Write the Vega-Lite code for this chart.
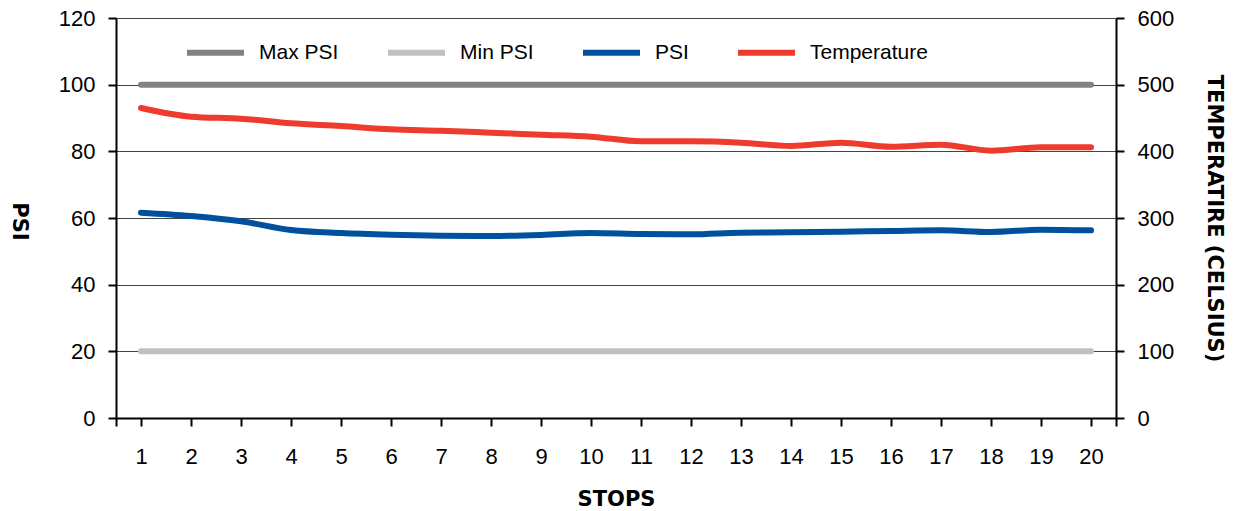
{
  "$schema": "https://vega.github.io/schema/vega-lite/v6.json",
  "width": 1000,
  "height": 400,
  "autosize": {"type": "none"},
  "padding": {"left": 116, "top": 18, "right": 119, "bottom": 93},
  "background": "white",
  "config": {
    "view": {"stroke": null},
    "font": "Liberation Sans",
    "axis": {
      "domainColor": "#000000",
      "domainWidth": 2,
      "tickColor": "#000000",
      "tickWidth": 2,
      "tickSize": 8,
      "labelFont": "Liberation Sans",
      "labelFontSize": 22,
      "labelColor": "#000000",
      "titleFont": "DejaVu Sans",
      "titleFontWeight": "bold",
      "titleFontSize": 21,
      "titleColor": "#000000"
    }
  },
  "data": {
    "values": [
      {"stop": 1, "series": "Max PSI", "value": 100}, {"stop": 2, "series": "Max PSI", "value": 100}, {"stop": 3, "series": "Max PSI", "value": 100}, {"stop": 4, "series": "Max PSI", "value": 100}, {"stop": 5, "series": "Max PSI", "value": 100}, {"stop": 6, "series": "Max PSI", "value": 100}, {"stop": 7, "series": "Max PSI", "value": 100}, {"stop": 8, "series": "Max PSI", "value": 100}, {"stop": 9, "series": "Max PSI", "value": 100}, {"stop": 10, "series": "Max PSI", "value": 100},
      {"stop": 11, "series": "Max PSI", "value": 100}, {"stop": 12, "series": "Max PSI", "value": 100}, {"stop": 13, "series": "Max PSI", "value": 100}, {"stop": 14, "series": "Max PSI", "value": 100}, {"stop": 15, "series": "Max PSI", "value": 100}, {"stop": 16, "series": "Max PSI", "value": 100}, {"stop": 17, "series": "Max PSI", "value": 100}, {"stop": 18, "series": "Max PSI", "value": 100}, {"stop": 19, "series": "Max PSI", "value": 100}, {"stop": 20, "series": "Max PSI", "value": 100},
      {"stop": 1, "series": "Min PSI", "value": 20}, {"stop": 2, "series": "Min PSI", "value": 20}, {"stop": 3, "series": "Min PSI", "value": 20}, {"stop": 4, "series": "Min PSI", "value": 20}, {"stop": 5, "series": "Min PSI", "value": 20}, {"stop": 6, "series": "Min PSI", "value": 20}, {"stop": 7, "series": "Min PSI", "value": 20}, {"stop": 8, "series": "Min PSI", "value": 20}, {"stop": 9, "series": "Min PSI", "value": 20}, {"stop": 10, "series": "Min PSI", "value": 20},
      {"stop": 11, "series": "Min PSI", "value": 20}, {"stop": 12, "series": "Min PSI", "value": 20}, {"stop": 13, "series": "Min PSI", "value": 20}, {"stop": 14, "series": "Min PSI", "value": 20}, {"stop": 15, "series": "Min PSI", "value": 20}, {"stop": 16, "series": "Min PSI", "value": 20}, {"stop": 17, "series": "Min PSI", "value": 20}, {"stop": 18, "series": "Min PSI", "value": 20}, {"stop": 19, "series": "Min PSI", "value": 20}, {"stop": 20, "series": "Min PSI", "value": 20},
      {"stop": 1, "series": "PSI", "value": 61.6}, {"stop": 2, "series": "PSI", "value": 60.6}, {"stop": 3, "series": "PSI", "value": 59.0}, {"stop": 4, "series": "PSI", "value": 56.4}, {"stop": 5, "series": "PSI", "value": 55.5}, {"stop": 6, "series": "PSI", "value": 55.0}, {"stop": 7, "series": "PSI", "value": 54.7}, {"stop": 8, "series": "PSI", "value": 54.6}, {"stop": 9, "series": "PSI", "value": 54.9}, {"stop": 10, "series": "PSI", "value": 55.5},
      {"stop": 11, "series": "PSI", "value": 55.2}, {"stop": 12, "series": "PSI", "value": 55.1}, {"stop": 13, "series": "PSI", "value": 55.6}, {"stop": 14, "series": "PSI", "value": 55.7}, {"stop": 15, "series": "PSI", "value": 55.9}, {"stop": 16, "series": "PSI", "value": 56.1}, {"stop": 17, "series": "PSI", "value": 56.3}, {"stop": 18, "series": "PSI", "value": 55.8}, {"stop": 19, "series": "PSI", "value": 56.5}, {"stop": 20, "series": "PSI", "value": 56.3},
      {"stop": 1, "series": "Temperature", "value": 465}, {"stop": 2, "series": "Temperature", "value": 452}, {"stop": 3, "series": "Temperature", "value": 449}, {"stop": 4, "series": "Temperature", "value": 442}, {"stop": 5, "series": "Temperature", "value": 438}, {"stop": 6, "series": "Temperature", "value": 433}, {"stop": 7, "series": "Temperature", "value": 431}, {"stop": 8, "series": "Temperature", "value": 428}, {"stop": 9, "series": "Temperature", "value": 425}, {"stop": 10, "series": "Temperature", "value": 422},
      {"stop": 11, "series": "Temperature", "value": 415}, {"stop": 12, "series": "Temperature", "value": 415}, {"stop": 13, "series": "Temperature", "value": 413}, {"stop": 14, "series": "Temperature", "value": 408}, {"stop": 15, "series": "Temperature", "value": 413}, {"stop": 16, "series": "Temperature", "value": 407}, {"stop": 17, "series": "Temperature", "value": 410}, {"stop": 18, "series": "Temperature", "value": 401}, {"stop": 19, "series": "Temperature", "value": 406}, {"stop": 20, "series": "Temperature", "value": 406}
    ]
  },
  "encoding": {
    "x": {
      "field": "stop",
      "type": "quantitative",
      "scale": {"domain": [0.5, 20.5], "nice": false, "zero": false},
      "axis": {
        "title": "STOPS",
        "values": [0.5, 1, 2, 3, 4, 5, 6, 7, 8, 9, 10, 11, 12, 13, 14, 15, 16, 17, 18, 19, 20, 20.5],
        "labelExpr": "datum.value % 1 == 0 ? datum.label : ''",
        "grid": false,
        "labelPadding": 20,
        "labelOverlap": false,
        "titleY": 87,
        "titleBaseline": "alphabetic"
      }
    },
    "color": {
      "field": "series",
      "type": "nominal",
      "scale": {
        "domain": ["Max PSI", "Min PSI", "PSI", "Temperature"],
        "range": ["#828285", "#c0c0c0", "#00509b", "#ef3b2d"]
      },
      "legend": {
        "title": null,
        "orient": "none",
        "legendX": 68,
        "legendY": 3,
        "direction": "horizontal",
        "padding": 0,
        "symbolType": "stroke",
        "symbolSize": 3249,
        "symbolStrokeWidth": 6,
        "labelFontSize": 21,
        "labelFont": "Liberation Sans",
        "labelColor": "#000000",
        "labelOffset": 12,
        "columnPadding": 37
      }
    }
  },
  "layer": [
    {
      "transform": [{"filter": "datum.series != 'Temperature'"}],
      "mark": {"type": "line", "strokeWidth": 6, "strokeCap": "round", "strokeJoin": "round", "interpolate": "monotone"},
      "encoding": {
        "y": {
          "field": "value",
          "type": "quantitative",
          "scale": {"domain": [0, 120], "nice": false},
          "axis": {
            "title": "PSI",
            "values": [0, 20, 40, 60, 80, 100, 120],
            "grid": true,
            "gridColor": "#444444",
            "gridWidth": 1,
            "labelPadding": 13,
            "titleAngle": 90,
            "titleAlign": "center",
            "titleBaseline": "middle",
            "titleX": -98,
            "titleY": 203
          }
        }
      }
    },
    {
      "transform": [{"filter": "datum.series == 'Temperature'"}],
      "mark": {"type": "line", "strokeWidth": 6, "strokeCap": "round", "strokeJoin": "round", "interpolate": "monotone"},
      "encoding": {
        "y": {
          "field": "value",
          "type": "quantitative",
          "scale": {"domain": [0, 600], "nice": false},
          "axis": {
            "title": "TEMPERATIRE (CELSIUS)",
            "orient": "right",
            "values": [0, 100, 200, 300, 400, 500, 600],
            "grid": false,
            "labelPadding": 13,
            "titleAngle": 90,
            "titleAlign": "center",
            "titleBaseline": "middle",
            "titleX": 97,
            "titleY": 200
          }
        }
      }
    }
  ],
  "resolve": {"scale": {"y": "independent"}}
}
